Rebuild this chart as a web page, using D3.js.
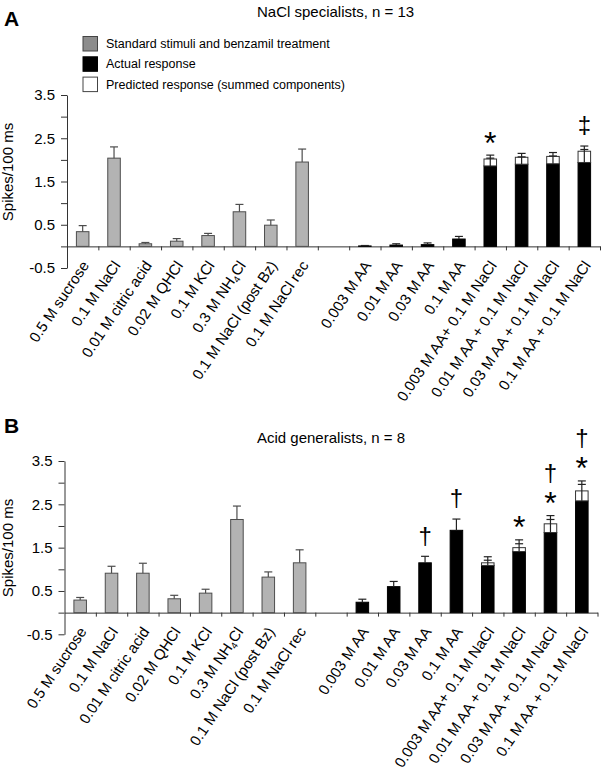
<!DOCTYPE html>
<html>
<head>
<meta charset="utf-8">
<title>NaCl specialists and acid generalists</title>
<style>
  body { margin: 0; background: white; }
  svg { font-family: "Liberation Sans", Arial, sans-serif; }
</style>
</head>
<body>
<script src="https://cdnjs.cloudflare.com/ajax/libs/d3/7.8.5/d3.min.js"></script>
<script>

// categories, "" is the empty slot between the two groups
var categories = [
  "0.5 M sucrose", "0.1 M NaCl", "0.01 M citric acid", "0.02 M QHCl", "0.1 M KCl",
  "0.3 M NH4Cl", "0.1 M NaCl (post Bz)", "0.1 M NaCl rec", "",
  "0.003 M AA", "0.01 M AA", "0.03 M AA", "0.1 M AA",
  "0.003 M AA+ 0.1 M NaCl", "0.01 M AA + 0.1 M NaCl", "0.03 M AA + 0.1 M NaCl", "0.1 M AA + 0.1 M NaCl"
];
var standardCount = 8;

var yTicks = [-0.5, 0, 0.5, 1, 1.5, 2, 2.5, 3, 3.5];
var yTickLabels = ["-0.5", "", "0.5", "", "1.5", "", "2.5", "", "3.5"];

var legendLabels = [
  "Standard stimuli and benzamil treatment",
  "Actual response",
  "Predicted response (summed components)"
];

// panel A: NaCl specialists
var actualA       = [0.34, 2.04, 0.06, 0.12, 0.25, 0.80, 0.49, 1.95, null, 0.01, 0.03, 0.04, 0.17, 1.86, 1.90, 1.91, 1.94];
var actualErrA    = [0.14, 0.26, 0.03, 0.06, 0.05, 0.17, 0.12, 0.30, null, 0.01, 0.03, 0.04, 0.06, 0.18, 0.17, 0.18, 0.30];
var predictedA    = [null, null, null, null, null, null, null, null, null, null, null, null, null, 2.02, 2.06, 2.08, 2.20];
var predictedErrA = [null, null, null, null, null, null, null, null, null, null, null, null, null, 0.09, 0.09, 0.09, 0.12];
var markersA      = ["", "", "", "", "", "", "", "", "", "", "", "", "", "*", "", "", "\u2021"];

// panel B: acid generalists
var actualB       = [0.29, 0.91, 0.91, 0.32, 0.45, 2.15, 0.82, 1.15, null, 0.24, 0.60, 1.15, 1.90, 1.09, 1.41, 1.85, 2.58];
var actualErrB    = [0.06, 0.16, 0.23, 0.08, 0.09, 0.31, 0.12, 0.30, null, 0.07, 0.12, 0.15, 0.26, 0.12, 0.18, 0.30, 0.38];
var predictedB    = [null, null, null, null, null, null, null, null, null, null, null, null, null, 1.15, 1.50, 2.05, 2.81];
var predictedErrB = [null, null, null, null, null, null, null, null, null, null, null, null, null, 0.14, 0.18, 0.19, 0.23];
var markersB      = ["", "", "", "", "", "", "", "", "", "", "", "\u2020", "\u2020", "", "*", "*\u2020", "*\u2020"];

var grayFill = "#b3b3b3", grayStroke = "#4d4d4d";

var svg = d3.select("body").append("svg")
    .attr("width", 602)
    .attr("height", 770);

function drawPanel(p) {
    var g = svg.append("g");

    var y = d3.scaleLinear().domain([-0.5, 3.5]).range([p.yBottom, p.yTop]);
    var x = d3.scaleBand().domain(d3.range(categories.length))
        .range([p.xLeft, p.xRight]).paddingInner(0.6).paddingOuter(0.3);
    var slot = d3.scaleLinear().domain([0, categories.length]).range([p.xLeft, p.xRight]);

    // panel letter + title
    g.append("text").attr("x", 4).attr("y", p.letterY)
        .attr("font-size", 21).attr("font-weight", "bold").text(p.letter);
    g.append("text").attr("x", 257).attr("y", p.titleY)
        .attr("font-size", 15).text(p.title);

    // y axis
    var ya = g.append("g")
        .attr("transform", "translate(" + p.xLeft + ",0)")
        .call(d3.axisLeft(y).tickValues(yTicks)
            .tickFormat(function (d, i) { return yTickLabels[i]; })
            .tickSize(6).tickSizeOuter(0).tickPadding(6));
    ya.attr("font-size", 15).attr("font-family", null);
    ya.selectAll("path, line").attr("stroke", "#333");
    ya.selectAll("text").attr("fill", "#000");

    // x axis along zero
    var xa = g.append("g")
        .attr("transform", "translate(0," + y(0) + ")")
        .call(d3.axisBottom(slot).tickValues(d3.range(1, categories.length + 1))
            .tickFormat("").tickSize(4).tickSizeOuter(0));
    xa.selectAll("path, line").attr("stroke", "#333");

    g.append("text")
        .attr("transform", "translate(13," + p.yLabelY + ") rotate(-90)")
        .attr("text-anchor", "middle").attr("font-size", 15)
        .text("Spikes/100 ms");

    var idx = d3.range(categories.length).filter(function (i) { return p.actual[i] != null; });
    var bw = x.bandwidth();

    // bars
    idx.forEach(function (i) {
        var isStd = i < standardCount;
        var v = p.actual[i];
        g.append("rect")
            .attr("x", x(i)).attr("width", bw)
            .attr("y", y(Math.max(v, 0))).attr("height", Math.abs(y(0) - y(v)))
            .attr("fill", isStd ? grayFill : "#000")
            .attr("stroke", isStd ? grayStroke : "#000").attr("stroke-width", 1);
        if (p.predicted[i] != null) {
            g.append("rect")
                .attr("x", x(i)).attr("width", bw)
                .attr("y", y(p.predicted[i])).attr("height", y(v) - y(p.predicted[i]))
                .attr("fill", "#fff").attr("stroke", "#333").attr("stroke-width", 1);
        }
    });

    // error bars
    idx.forEach(function (i) {
        var isStd = i < standardCount;
        var cx = x(i) + bw / 2;
        var caps = [p.actual[i] + p.actualErr[i]];
        if (p.predicted[i] != null) caps.push(p.predicted[i] + p.predictedErr[i]);
        var top = d3.max(caps);
        var col = isStd ? grayStroke : "#222";
        g.append("line")
            .attr("x1", cx).attr("x2", cx)
            .attr("y1", y(Math.max(p.actual[i], 0))).attr("y2", y(top))
            .attr("stroke", col).attr("stroke-width", 1.2);
        caps.forEach(function (c) {
            g.append("line")
                .attr("x1", cx - 4).attr("x2", cx + 4)
                .attr("y1", y(c)).attr("y2", y(c))
                .attr("stroke", col).attr("stroke-width", 1.2);
        });
    });

    // significance markers, stacked upward
    idx.forEach(function (i) {
        var m = p.markers[i];
        if (!m) return;
        var caps = [p.actual[i] + p.actualErr[i]];
        if (p.predicted[i] != null) caps.push(p.predicted[i] + p.predictedErr[i]);
        var top = y(d3.max(caps));
        var cx = x(i) + bw / 2;
        m.split("").forEach(function (ch, k) {
            var cy = top - 20 - k * 22;
            var isStar = ch === "*";
            var fs = isStar ? 32 : 24;
            g.append("text")
                .attr("x", cx).attr("y", cy + (isStar ? 0.58 : 0.3) * fs)
                .attr("text-anchor", "middle").attr("font-size", fs)
                .text(ch);
        });
    });

    // category labels
    idx.forEach(function (i) {
        var t = g.append("text")
            .attr("transform", "translate(" + (x(i) + bw / 2 + 7) + "," + (y(0) + 19) + ") rotate(-56)")
            .attr("text-anchor", "end").attr("font-size", 15);
        var name = categories[i];
        if (name.indexOf("NH4") >= 0) {
            t.append("tspan").text("0.3 M NH");
            t.append("tspan").attr("font-size", 9.5).attr("dy", 3).text("4");
            t.append("tspan").attr("dy", -3).text("Cl");
        } else {
            t.text(name);
        }
    });
}

// legend (panel A only)
var legendFills = [{ f: "#8c8c8c", s: "#444" }, { f: "#000", s: "#000" }, { f: "#fff", s: "#444" }];
var lg = svg.append("g");
legendLabels.forEach(function (lab, i) {
    lg.append("rect").attr("x", 83).attr("y", 36.5 + i * 20.3).attr("width", 14.5).attr("height", 14.5)
        .attr("fill", legendFills[i].f).attr("stroke", legendFills[i].s).attr("stroke-width", 1);
    lg.append("text").attr("x", 106).attr("y", 48 + i * 20.3)
        .attr("font-size", 12.5).text(lab);
});

drawPanel({
    letter: "A", letterY: 26, title: "NaCl specialists, n = 13", titleY: 17,
    xLeft: 67, xRight: 600, yTop: 95, yBottom: 268, yLabelY: 172,
    actual: actualA, actualErr: actualErrA, predicted: predictedA,
    predictedErr: predictedErrA, markers: markersA
});

drawPanel({
    letter: "B", letterY: 433, title: "Acid generalists, n = 8", titleY: 443,
    xLeft: 64.5, xRight: 597.5, yTop: 461, yBottom: 634.3, yLabelY: 548,
    actual: actualB, actualErr: actualErrB, predicted: predictedB,
    predictedErr: predictedErrB, markers: markersB
});

</script>
</body>
</html>
